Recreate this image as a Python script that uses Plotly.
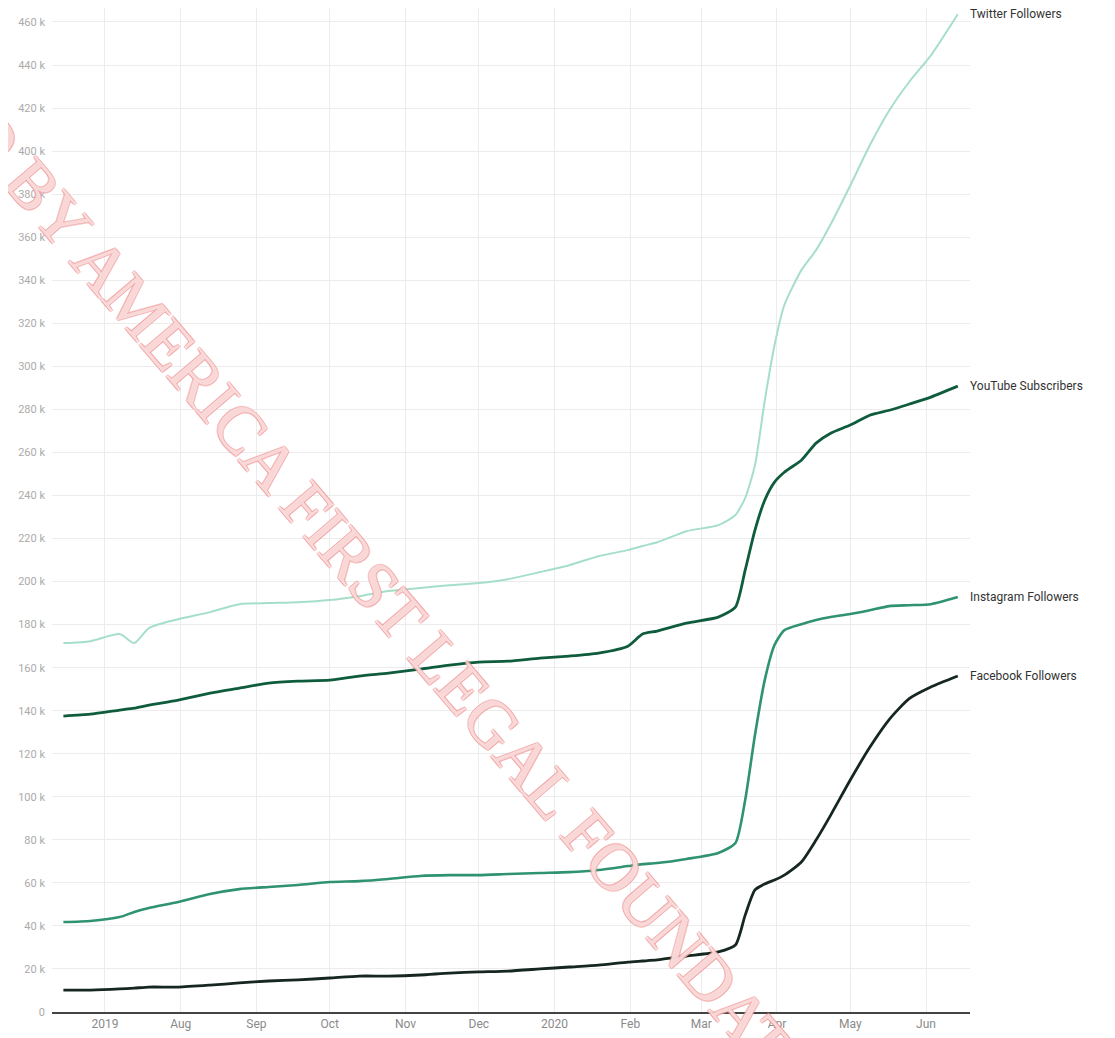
import plotly.graph_objects as go

dates = ["2019-06-14", "2019-06-25", "2019-07-07", "2019-07-13", "2019-07-19", "2019-07-31",
         "2019-08-13", "2019-08-25", "2019-09-06", "2019-09-18", "2019-10-01", "2019-10-13",
         "2019-10-25", "2019-11-07", "2019-11-19", "2019-12-01", "2019-12-13", "2019-12-26",
         "2020-01-07", "2020-01-19", "2020-01-31", "2020-02-06", "2020-02-12", "2020-02-24",
         "2020-03-08", "2020-03-15", "2020-03-19", "2020-03-23", "2020-03-27", "2020-03-31",
         "2020-04-04", "2020-04-11", "2020-04-17", "2020-04-23", "2020-05-01", "2020-05-09",
         "2020-05-17", "2020-05-25", "2020-06-03", "2020-06-14"]

twitter = [171.4, 172.3, 175.6, 171.4, 178.4, 182.5, 185.8, 189.5, 190.0, 190.4, 191.4, 193.2,
           195.6, 197.0, 198.3, 199.3, 201.1, 204.4, 207.6, 211.8, 214.6, 216.5, 218.3, 223.4,
           226.2, 230.9, 238.8, 254.0, 284.0, 309.8, 328.4, 344.7, 354.0, 366.0, 384.0, 402.7,
           419.0, 432.0, 444.5, 463.6]
youtube = [137.5, 138.4, 140.3, 141.2, 142.6, 144.9, 148.2, 150.5, 152.8, 153.7, 154.2, 156.1,
           157.5, 159.3, 161.2, 162.6, 163.0, 164.4, 165.4, 166.8, 170.0, 175.6, 177.0, 180.7,
           183.5, 188.1, 205.3, 223.9, 237.8, 246.2, 250.8, 256.4, 264.3, 268.9, 272.7, 277.3,
           279.6, 282.4, 285.7, 290.8]
instagram = [41.8, 42.3, 44.1, 46.5, 48.3, 51.1, 54.8, 57.1, 58.1, 59.0, 60.4, 60.8,
             61.8, 63.2, 63.6, 63.6, 64.1, 64.6, 65.0, 66.0, 67.8, 68.7, 69.2, 71.1,
             73.9, 78.5, 98.5, 128.7, 154.2, 170.5, 177.4, 180.2, 182.1, 183.5, 184.9, 186.7,
             188.6, 189.0, 189.5, 192.8]
facebook = [10.2, 10.2, 10.7, 11.1, 11.6, 11.6, 12.5, 13.5, 14.4, 14.9, 15.8, 16.7,
            16.7, 17.2, 18.1, 18.6, 19.0, 20.0, 20.9, 21.8, 23.2, 23.7, 24.2, 26.0,
            27.9, 31.1, 45.0, 56.7, 59.5, 61.3, 63.6, 69.7, 79.9, 91.5, 107.8, 123.0,
            136.0, 145.5, 151.0, 156.1]

series_names = ["Twitter Followers", "YouTube Subscribers", "Instagram Followers", "Facebook Followers"]
series_values = [twitter, youtube, instagram, facebook]
series_colors = ["#a6dfc9", "#0f5c3d", "#2f9270", "#15271f"]
series_widths = [2, 2.8, 2.6, 2.8]

month_ticks = ["2019-07-01", "2019-08-01", "2019-09-01", "2019-10-01", "2019-11-01", "2019-12-01",
               "2020-01-01", "2020-02-01", "2020-03-01", "2020-04-01", "2020-05-01", "2020-06-01"]
month_labels = ["2019", "Aug", "Sep", "Oct", "Nov", "Dec", "2020", "Feb", "Mar", "Apr", "May", "Jun"]

y_ticks = list(range(0, 461, 20))
y_labels = [("0" if v == 0 else f"{v} k") for v in y_ticks]

watermark = "PRODUCED BY AMERICA FIRST LEGAL FOUNDATION"

fig = go.Figure()
for name, vals, col, w in zip(series_names, series_values, series_colors, series_widths):
    fig.add_trace(go.Scatter(
        x=dates, y=[v * 1000 for v in vals], mode="lines", name=name,
        line=dict(color=col, width=w, shape="spline", smoothing=0.6),
        hoverinfo="skip", showlegend=False))
    fig.add_annotation(x=dates[-1], y=vals[-1] * 1000, text=name, showarrow=False,
                       xanchor="left", yanchor="middle", xshift=10,
                       font=dict(family="Roboto", size=12, color="#333333"))

# page has an 8px body margin: plot area target is x 52..970, y 0..1012 in the page
oc = "#f09a9a"
fig.add_annotation(
    xref="paper", yref="paper", x=(314 - 52) / 918, y=(1012 - 514) / 1004, text=watermark,
    showarrow=False, xanchor="center", yanchor="middle", textangle=49.5,
    font=dict(family="Liberation Serif", size=67, color="rgba(255,255,255,0.6)",
              shadow=f"1px 1px 0 {oc}, -1px -1px 0 {oc}, 1px -1px 0 {oc}, -1px 1px 0 {oc}"))

fig.update_layout(
    width=1107, height=1030,
    margin=dict(l=44, r=145, t=0, b=26),
    paper_bgcolor="white", plot_bgcolor="white",
    xaxis=dict(range=["2019-06-09 08:00", "2020-06-19"], tickvals=month_ticks, ticktext=month_labels,
               showgrid=True, gridcolor="#ececec", gridwidth=1,
               showline=True, linecolor="#444444", linewidth=1.5, automargin=False,
               ticks="", tickfont=dict(family="Roboto", size=12, color="#8a8a8a"),
               zeroline=False),
    yaxis=dict(range=[0, 466500], tickvals=[v * 1000 for v in y_ticks], ticktext=y_labels,
               showgrid=True, gridcolor="#ececec", gridwidth=1, zeroline=False, automargin=False,
               showline=False, ticks="", ticklabelstandoff=6,
               tickfont=dict(family="Roboto", size=11, color="#ababab")),
)

fig.write_html("out.html")
